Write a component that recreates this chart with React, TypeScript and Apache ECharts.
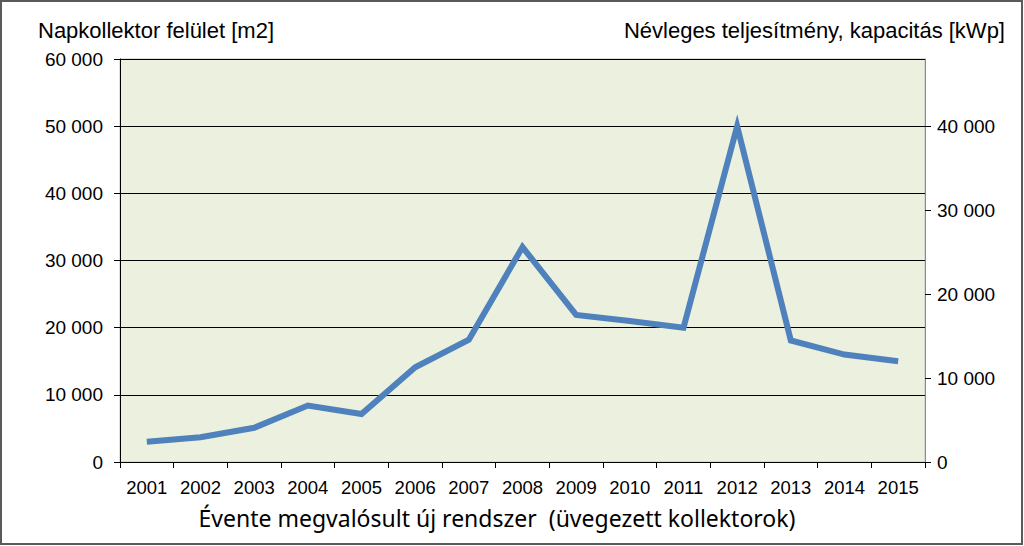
import React, { useEffect, useRef } from "react";
import * as echarts from "echarts";

const years = ["2001","2002","2003","2004","2005","2006","2007","2008","2009","2010","2011","2012","2013","2014","2015"];
const collectorArea = [3000, 3700, 5100, 8400, 7150, 14100, 18200, 32000, 21900, 21000, 20000, 50000, 18100, 16000, 15000];
const leftTitle = "Napkollektor felület [m2]";
const rightTitle = "Névleges teljesítmény, kapacitás [kWp]";
const xTitle = "Évente megvalósult új rendszer  (üvegezett kollektorok)";

const fmt = (v: number) => {
  const s = Math.round(v).toString();
  return s.replace(/\B(?=(\d{3})+(?!\d))/g, " ");
};

export default function App() {
  const ref = useRef<HTMLDivElement>(null);
  useEffect(() => {
    if (!ref.current) return;
    const chart = echarts.init(ref.current, null, { renderer: "svg" });
    const labelFont = { fontFamily: "Liberation Sans", fontSize: 19, color: "#000" };
    chart.setOption({
      animation: false,
      backgroundColor: "#fff",
      grid: {
        left: 120, right: 99, top: 59, bottom: 84,
        show: true, backgroundColor: "#EBF1DE", borderColor: "#c0c0c0", borderWidth: 1,
      },
      xAxis: {
        type: "category",
        data: years,
        boundaryGap: true,
        axisLine: { lineStyle: { color: "#000", width: 1 } },
        axisTick: { show: true, length: 6, lineStyle: { color: "#000" } },
        axisLabel: { ...labelFont, fontSize: 18.5, margin: 16 },
      },
      yAxis: [
        {
          type: "value", min: 0, max: 60000, interval: 10000, position: "left",
          axisLine: { show: true, lineStyle: { color: "#000", width: 1 } },
          axisTick: { show: true, length: 6, lineStyle: { color: "#000" } },
          axisLabel: { ...labelFont, margin: 17, formatter: (v: number) => fmt(v) },
          splitLine: { show: true, lineStyle: { color: "#000", width: 1 } },
        },
        {
          type: "value", min: 0, max: 48000, interval: 10000, position: "right",
          axisLine: { show: true, lineStyle: { color: "#8a8a8a", width: 1 } },
          axisTick: { show: true, length: 6, lineStyle: { color: "#000" } },
          axisLabel: { ...labelFont, margin: 12, showMaxLabel: false,
            formatter: (v: number) => (v % 10000 === 0 ? fmt(v) : "") },
          splitLine: { show: false },
        },
      ],
      series: [
        {
          type: "line", data: collectorArea, yAxisIndex: 0,
          symbol: "none",
          lineStyle: { color: "#4F81BD", width: 6, join: "miter" },
        },
      ],
      graphic: [
        { type: "rect", shape: { x: 1, y: 1, width: 1021, height: 543 },
          style: { fill: "none", stroke: "#5a5a5a", lineWidth: 2 } },
        { type: "text", x: 38, y: 30, style: { text: leftTitle, font: "22px 'Liberation Sans'", fill: "#000", textVerticalAlign: "middle" } },
        { type: "text", x: 1005, y: 30, style: { text: rightTitle, font: "22px 'Liberation Sans'", fill: "#000", textAlign: "right", textVerticalAlign: "middle" } },
        { type: "text", x: 497, y: 518, style: { text: xTitle, font: "23px 'Noto Sans'", fill: "#000", textAlign: "center", textVerticalAlign: "middle" } },
      ],
    });
    return () => chart.dispose();
  }, []);
  return <div ref={ref} style={{ position: "fixed", left: 0, top: 0, width: 1024, height: 546 }} />;
}
